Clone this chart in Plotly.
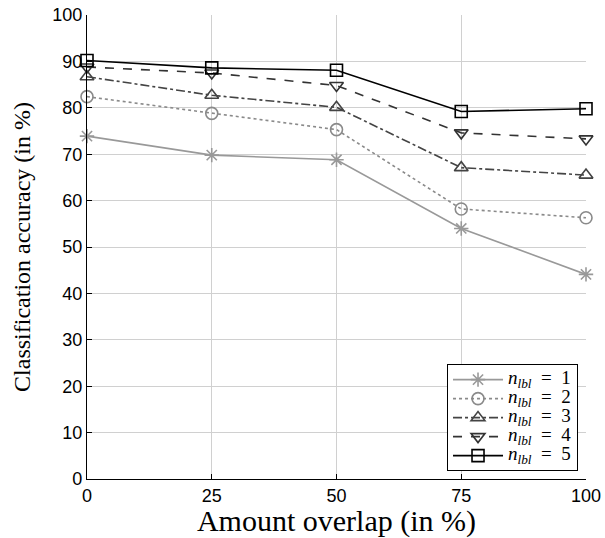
import plotly.graph_objects as go

overlap = [0, 25, 50, 75, 100]
acc_n1 = [73.9, 69.8, 68.8, 54.0, 44.1]
acc_n2 = [82.4, 78.8, 75.3, 58.2, 56.3]
acc_n3 = [86.7, 82.7, 80.1, 67.1, 65.5]
acc_n4 = [88.8, 87.5, 84.8, 74.6, 73.3]
acc_n5 = [90.2, 88.6, 88.1, 79.2, 79.8]
labels = ["1", "2", "3", "4", "5"]
y_ticks = [0, 10, 20, 30, 40, 50, 60, 70, 80, 90, 100]
y_grid = [10, 20, 30, 40, 50, 60, 70, 80, 90]

series = [
    (acc_n1, "#999999", "solid", "asterisk-open"),
    (acc_n2, "#8a8a8a", "dot", "circle-open"),
    (acc_n3, "#444444", "dashdot", "triangle-up-open"),
    (acc_n4, "#333333", "dash", "triangle-down-open"),
    (acc_n5, "#000000", "solid", "square-open"),
]

fig = go.Figure()
for (vals, col, dash, sym), lab in zip(series, labels):
    fig.add_trace(go.Scatter(
        x=overlap, y=vals, mode="lines+markers",
        name=('<span style="font-size:19px"><i>n</i><sub><i>lbl</i></sub>'
              '&nbsp;&nbsp;=&nbsp;&nbsp;' + lab + '</span>'),
        line=dict(color=col, width=1.6, dash=dash),
        marker=dict(symbol=sym, size=12, color=col, line=dict(color=col, width=1.6)),
        cliponaxis=False,
    ))

fig.update_layout(
    width=605, height=538,
    margin=dict(l=87, r=19, t=15, b=59),
    paper_bgcolor="white", plot_bgcolor="white",
    font=dict(family="Liberation Sans, Arial", size=18, color="black"),
    legend=dict(
        x=0.984, y=0.017, xanchor="right", yanchor="bottom",
        bgcolor="white", bordercolor="black", borderwidth=1,
        font=dict(family="Liberation Serif", size=12, color="black"),
        itemwidth=50, tracegroupgap=0,
    ),
)
fig.update_xaxes(
    range=[0, 100], tickvals=overlap, ticktext=[str(v) for v in overlap],
    showgrid=True, gridcolor="#d0d0d0", gridwidth=1,
    showline=True, linecolor="black", linewidth=1.2,
    ticks="inside", ticklen=5, tickcolor="black",
    zeroline=False, automargin=False,
    title=dict(text="Amount overlap (in %)", font=dict(family="Liberation Serif", size=30), standoff=0),
    tickfont=dict(size=18),
)
fig.update_yaxes(
    range=[0, 100], tickvals=y_ticks,
    showgrid=False,
    minor=dict(tickvals=y_grid, showgrid=True, gridcolor="#d0d0d0", gridwidth=1, ticks=""),
    showline=True, linecolor="black", linewidth=1.2,
    ticks="inside", ticklen=5, tickcolor="black",
    zeroline=False, automargin=False,
    title=dict(text="Classification accuracy (in %)", font=dict(family="Liberation Serif", size=24), standoff=14),
    tickfont=dict(size=18),
)

fig.write_html("out.html")
